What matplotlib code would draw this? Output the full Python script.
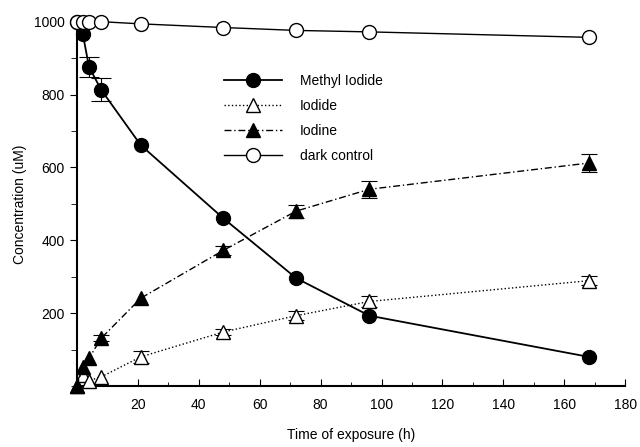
import matplotlib.pyplot as plt
import numpy as np
from matplotlib.ticker import MultipleLocator

plt.rcParams['font.family'] = ['Liberation Sans', 'DejaVu Sans']

nan = np.nan

# exposure times (h)
t = [0, 2, 4, 8, 21, 48, 72, 96, 168]

methyl = [1000, 965, 876, 813, 661, 461, 296, 193, 80]
methyl_err = [nan, nan, 27, 32, nan, nan, nan, nan, nan]

iodide = [0, 30, 15, 25, 80, 148, 193, 232, 289]
iodide_err = [nan, nan, nan, nan, 16, 8, 12, 16, 12]

iodine = [0, 53, 76, 131, 241, 372, 480, 540, 612]
iodine_err = [nan, nan, nan, 8, nan, 12, 18, 24, 24]

dark = [1000, 1000, 1000, 1000, 994, 984, 976, 972, 957]

fig = plt.figure(figsize=(6.4, 4.47), dpi=100)
ax = fig.add_axes([0.120, 0.1365, 0.857, 0.815])

eb = dict(fmt='none', ecolor='black', elinewidth=0.8, capthick=0.8,
          clip_on=False, zorder=2)
ax.errorbar(t, methyl, yerr=methyl_err, capsize=7, **eb)
ax.errorbar(t, iodide, yerr=iodide_err, capsize=6, **eb)
ax.errorbar(t, iodine, yerr=iodine_err, capsize=6, **eb)

h1, = ax.plot(t, methyl, color='black', lw=1.3, marker='o', ms=10,
              mfc='black', label='Methyl Iodide', clip_on=False, zorder=4)
h2, = ax.plot(t, iodide, color='black', lw=1.0, ls=':', marker='^', ms=10,
              mfc='white', label='Iodide', clip_on=False, zorder=3)
h3, = ax.plot(t, iodine, color='black', lw=1.0, ls=(0, (5, 2, 1, 2)),
              marker='^', ms=10, mfc='black', label='Iodine', clip_on=False,
              zorder=3)
h4, = ax.plot(t, dark, color='black', lw=1.0, marker='o', ms=10, mfc='white',
              label='dark control', clip_on=False, zorder=5)

ax.set_xlim(0, 180)
ax.set_ylim(0, 1000)
ax.set_xticks(range(20, 181, 20))
ax.set_yticks(range(200, 1001, 200))
ax.xaxis.set_minor_locator(MultipleLocator(10))
ax.yaxis.set_minor_locator(MultipleLocator(100))
ax.tick_params(axis='x', which='both', direction='in', length=5, pad=9,
               labelsize=10)
ax.tick_params(axis='y', which='both', direction='out', length=5,
               labelsize=10)
ax.tick_params(axis='x', which='minor', length=3)
ax.tick_params(axis='y', which='minor', length=4)
for s in ['top', 'right']:
    ax.spines[s].set_visible(False)
ax.spines['left'].set_linewidth(1.5)
ax.spines['bottom'].set_linewidth(1.5)

ax.set_xlabel('Time of exposure (h)', fontsize=10, labelpad=11)
ax.set_ylabel('Concentration (uM)', fontsize=10, labelpad=5)

ax.legend(handles=[h1, h2, h3, h4], loc='upper left',
          bbox_to_anchor=(0.33, 0.862), bbox_transform=fig.transFigure,
          frameon=False, fontsize=10, handlelength=4.2, handletextpad=1.3,
          labelspacing=0.78)

fig.savefig('out.png', dpi=100)
